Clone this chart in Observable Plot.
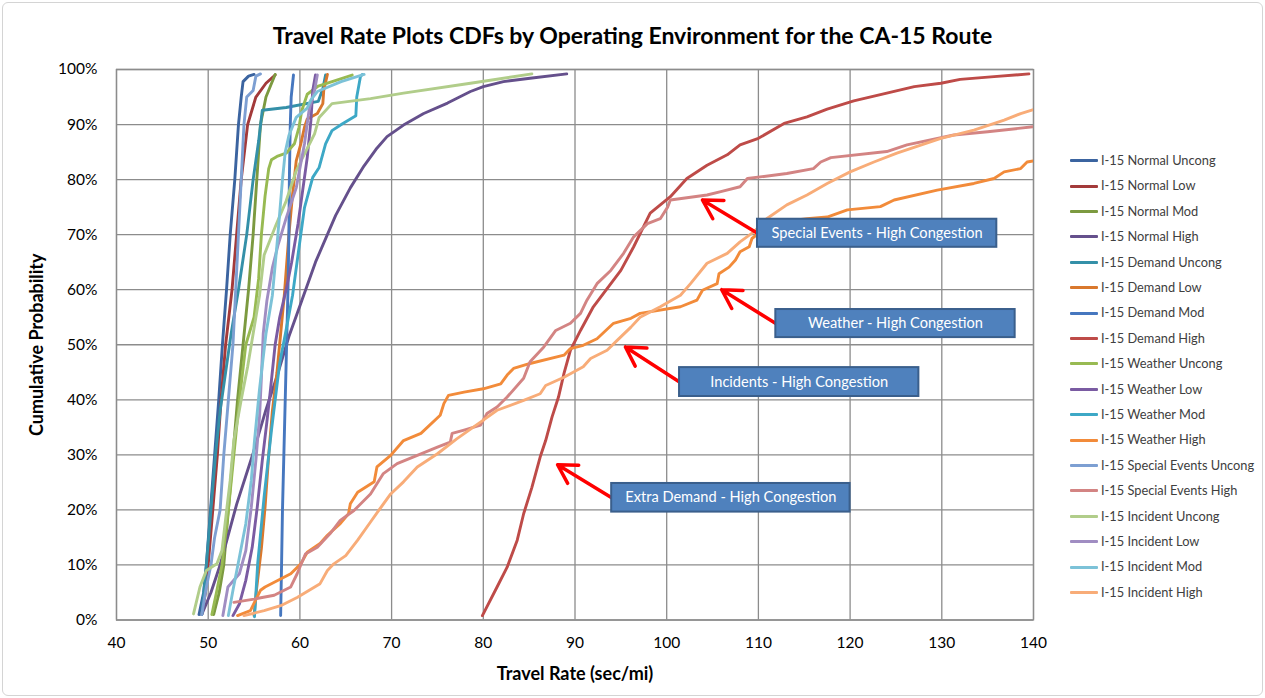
<!DOCTYPE html>
<html><head><meta charset="utf-8">
<script src="https://cdn.jsdelivr.net/npm/d3@7"></script>
<script src="https://cdn.jsdelivr.net/npm/@observablehq/plot@0.6"></script>
<style>
body{margin:0;background:#fff;font-family:Lato,"Open Sans",sans-serif;}
#chart{position:relative;width:1265px;height:698px;overflow:hidden;background:#fff;}
#border{position:absolute;left:2px;top:2px;width:1259px;height:692px;border:1px solid #d4d4d4;border-radius:6px;pointer-events:none;}
#title{box-sizing:border-box;height:50px;padding-top:23px;line-height:24px;text-align:center;font-weight:bold;font-size:23px;color:#000;}
#plot svg{display:block;}
.lg{position:absolute;left:1070px;height:16px;line-height:16px;font-size:12.8px;color:#404040;white-space:nowrap;}
.lg .sw{display:inline-block;width:28px;height:3px;vertical-align:middle;margin-right:3px;border-radius:1px;position:relative;top:-1px;}
</style>
</head><body>
<div id="chart">
  <div id="title">Travel Rate Plots CDFs by Operating Environment for the CA-15 Route</div>
  <div id="plot"></div>
  <div id="legend"></div>
  <div id="border"></div>
</div>
<script>
const xTicks = [40,50,60,70,80,90,100,110,120,130,140];
const yTicks = [0,10,20,30,40,50,60,70,80,90,100];

const seriesNames = ["I-15 Normal Uncong","I-15 Normal Low","I-15 Normal Mod","I-15 Normal High",
  "I-15 Demand Uncong","I-15 Demand Low","I-15 Demand Mod","I-15 Demand High",
  "I-15 Weather Uncong","I-15 Weather Low","I-15 Weather Mod","I-15 Weather High",
  "I-15 Special Events Uncong","I-15 Special Events High","I-15 Incident Uncong","I-15 Incident Low",
  "I-15 Incident Mod","I-15 Incident High"];
const seriesColors = ["#3B64A0","#A33A3A","#7C9A40","#65508C","#3490A8","#D9782D",
  "#4677BF","#BE4B48","#98BA52","#7A5BA2","#3DA8C6","#F28B3A",
  "#7D9FD2","#D38483","#B1CD8A","#A08DC2","#7CC2D8","#F8AC78"];

// [travel rate (sec/mi), cumulative probability (%)]
const normalUncong = [[49.0,1],[49.5,5],[49.8,10],[50.25,20],[50.7,30],[51.15,40],[51.55,50],[52.0,60],[52.4,70],[52.9,80],[53.3,90],[53.6,95],[53.8,97.8],[54.4,98.8],[55.0,99.1]];
const normalLow = [[49.3,1],[49.7,5],[50.0,10],[50.5,20],[51.0,30],[51.4,40],[51.9,50],[52.6,60],[53.1,70],[53.6,80],[54.3,90],[55.2,95],[56.3,97.5],[57.3,99]];
const normalMod = [[50.6,1],[51.2,5],[51.7,10],[52.2,20],[52.7,30],[53.2,40],[53.8,50],[54.4,60],[54.9,70],[55.3,80],[55.7,90],[56.3,95],[57.3,99.1]];
const normalHigh = [[49.3,1],[50.3,5],[51.3,10],[53.1,21],[54.9,30.3],[56.3,38.2],[57.6,44.8],[58.8,51.5],[60.2,58],[61.7,65],[63.9,73.5],[65.5,78.5],[67.0,82.5],[68.3,85.5],[69.5,87.8],[71.3,89.9],[73.5,92],[76.1,93.9],[78.6,96],[80.0,96.9],[82.2,97.8],[85.1,98.4],[89.1,99.2]];
const demandUncong = [[49.3,1],[49.8,10],[50.3,20],[50.8,30],[51.3,38],[51.9,45],[52.5,52],[53.3,60],[54.2,70],[54.9,80],[55.5,87],[55.9,92.6],[58.5,93.1],[62.0,94.2],[62.5,96.5],[62.8,99]];
const demandLow = [[55.0,0.8],[55.3,6],[55.8,13],[56.2,20.5],[56.6,30],[57.0,38],[57.5,45],[57.9,52],[58.3,59],[58.8,70],[59.2,77.3],[59.6,83.4],[60.1,86.5],[60.5,89.5],[60.8,91],[61.9,92],[62.5,93.8],[62.6,96.2],[63.0,99.1]];
const demandMod = [[57.9,0.8],[58.0,10],[58.1,20],[58.25,30],[58.4,40],[58.55,50],[58.7,60],[58.8,70],[58.85,80],[58.95,90],[59.05,95],[59.3,99]];
const demandHigh = [[79.9,0.8],[81.5,6],[82.6,9.6],[83.7,14.5],[84.4,19.3],[85.3,24.1],[86.2,29.6],[86.8,32.6],[87.5,36.9],[88.2,40.5],[88.8,44.8],[89.5,49],[90.6,52.6],[92.0,56.9],[95.0,63.5],[96.4,67.8],[98.2,73.9],[100.4,76.9],[102.2,80.2],[104.4,82.6],[106.6,84.5],[108.0,86.3],[110.0,87.5],[112.8,90.2],[115.3,91.4],[117.5,92.8],[120.4,94.3],[124.0,95.7],[127.0,96.9],[129.9,97.5],[132.0,98.2],[135.7,98.7],[139.5,99.2]];
const weatherUncong = [[50.4,1],[50.9,5],[51.5,10],[52.2,20],[52.8,30],[53.4,40],[54.1,50],[55.0,55],[55.5,62],[55.8,70],[56.2,77],[56.6,82],[56.9,83.6],[57.5,84.2],[58.5,84.8],[59.4,86.5],[59.9,89.5],[60.2,92.5],[60.8,95.5],[62.0,97],[65.7,99]];
const weatherLow = [[52.7,0.8],[53.4,2.9],[54.1,7.2],[54.8,13.2],[55.35,20.5],[55.9,29],[56.4,36],[56.8,42],[57.3,50],[57.8,55],[58.5,60],[59.1,65],[59.8,72],[60.3,78],[60.8,84],[61.2,90.7],[61.4,96.2],[61.7,99]];
const weatherMod = [[55.05,0.6],[55.4,10.3],[56.1,22.4],[56.9,34.5],[57.8,46.7],[58.5,52.7],[59.2,59],[59.9,67.6],[60.5,74.9],[61.4,80.4],[62.1,82.2],[62.8,86.5],[63.5,88.9],[64.6,90.1],[66.1,91.6],[66.2,95],[66.6,98.7],[66.8,99.1]];
const weatherHigh = [[53.2,0.8],[54.6,1.7],[55.7,5.4],[56.2,6],[59.0,8.4],[60.1,10.2],[60.8,12.3],[62.2,13.9],[63.0,15.4],[64.4,17.5],[65.3,19.3],[65.5,21.1],[66.3,23.2],[68.1,25.1],[68.4,27.8],[69.9,29.9],[71.3,32.6],[73.2,33.9],[75.3,37.2],[75.7,39.3],[76.2,40.8],[77.9,41.4],[80.0,42.0],[81.9,42.9],[82.6,44.5],[83.3,45.7],[85.1,46.6],[88.8,48.1],[89.5,49.3],[90.9,49.9],[92.4,51.1],[94.2,53.9],[96.1,54.8],[97.1,55.7],[101.5,56.9],[103.3,58.1],[103.9,59.9],[105.5,61.1],[105.7,62.9],[106.8,64.1],[107.5,65.4],[108.0,66.9],[109.0,67.8],[109.3,69.3],[110.2,70.5],[112.0,72],[113.8,72.6],[115.3,72.9],[117.5,73.2],[119.7,74.5],[123.3,75.1],[124.8,76.3],[129.5,78.1],[133.5,79.3],[135.7,80.2],[136.8,81.4],[138.6,82],[139.3,83.2],[140,83.4]];
const specialUncong = [[49.3,1],[49.8,6],[50.3,10],[50.7,15],[51.3,20],[51.7,30],[52.2,40],[52.7,50],[53.0,60],[53.3,70],[53.6,80],[53.9,90],[54.2,95],[54.9,96.2],[55.2,98.8],[55.7,99.2]];
const specialHigh = [[52.8,3.2],[55.0,3.8],[57.2,4.5],[59.0,6],[59.7,8.4],[60.6,12],[61.9,13.2],[63.3,15.7],[64.4,18.1],[65.9,19.9],[67.7,22.9],[69.1,26.6],[70.6,28.4],[72.8,29.9],[75.0,31.4],[76.4,32.3],[76.6,33.9],[77.9,34.5],[79.7,35.4],[80.4,37.5],[81.5,38.7],[82.6,40.5],[84.4,43.9],[85.1,46.9],[86.6,49.6],[87.9,52.6],[89.5,53.9],[90.6,55.7],[91.3,58.1],[92.4,61.1],[93.9,63.5],[95.3,66.6],[96.4,69.6],[97.9,72],[99.3,72.9],[100.1,75],[100.4,76.3],[104.4,77.2],[105.9,77.8],[108.0,78.7],[108.8,80.2],[113.1,81.1],[116.0,82],[116.8,83.2],[117.9,84],[124.0,85.1],[126.2,86.3],[131.3,88.1],[135.0,88.7],[140,89.6]];
const incidentUncong = [[48.4,1.1],[49.1,6],[49.8,9],[50.95,10.2],[51.5,12.6],[52.05,20.5],[52.4,25.4],[52.8,32.6],[53.6,40],[54.3,46],[54.9,52],[55.6,59],[56.1,66.3],[57.4,71.8],[58.5,76.1],[59.6,81.6],[60.3,84],[61.6,88.3],[62.1,91.3],[63.5,93.8],[67.7,94.7],[71.3,95.7],[78.6,97.5],[85.3,99.2]];
const incidentLow = [[51.6,0.8],[52.15,6],[53.4,8.4],[54.1,12.6],[54.7,20.5],[55.2,29],[55.6,37],[55.8,44],[56.0,52],[56.4,58],[57.0,64],[57.6,68],[58.5,73],[59.6,78.5],[60.5,86.5],[61.0,92.6],[61.6,96.2],[61.9,99]];
const incidentMod = [[52.2,0.8],[52.7,5.4],[53.4,11.4],[54.1,17.5],[54.7,25.4],[55.05,32.6],[55.6,42],[56.3,52],[57.0,59],[57.6,70],[58.1,80],[58.4,85],[58.8,88],[59.6,91.3],[60.8,93],[61.2,94.5],[61.9,96],[64.5,97.8],[67.0,99.1]];
const incidentHigh = [[53.9,0.8],[56.1,1.7],[57.9,2.6],[59.7,4.1],[62.2,6.6],[63.0,9],[63.7,10.2],[65.0,11.7],[66.3,14.5],[67.7,17.8],[68.6,19.9],[69.9,22.9],[71.3,25.1],[72.8,27.8],[75.0,30.2],[77.1,32.9],[80.0,36.3],[81.5,38.1],[84.4,39.9],[86.2,41.1],[86.8,42.6],[88.8,44.1],[90.9,46],[91.7,47.5],[93.5,49],[94.6,50.8],[96.1,53.2],[97.1,55],[99.3,56.9],[101.5,59],[102.6,61.1],[104.4,64.8],[106.6,66.6],[108.0,68.7],[109.5,70.5],[110.9,72.9],[113.1,75.4],[115.3,77.2],[117.5,79.3],[120.0,81.4],[122.6,83.2],[125.1,84.8],[129.9,87.5],[133.5,89],[136.8,90.8],[138.6,92],[140,92.7]];

const seriesValues = [normalUncong, normalLow, normalMod, normalHigh, demandUncong, demandLow, demandMod, demandHigh,
  weatherUncong, weatherLow, weatherMod, weatherHigh, specialUncong, specialHigh, incidentUncong, incidentLow,
  incidentMod, incidentHigh];

// Callout labels: box extent, arrow tip (data units)
const calloutText = ["Special Events - High Congestion","Weather - High Congestion","Incidents - High Congestion","Extra Demand - High Congestion"];
const calloutBox = [[109.9,136.0,72.8,67.7],[111.9,138.0,56.4,51.3],[101.4,127.5,45.85,40.6],[94.0,120.0,24.8,19.6]];
const calloutTip = [[103.9,76.3],[106.0,60.0],[95.5,49.6],[88.1,28.2]];

const rows = seriesValues.flatMap((vals, i) => vals.map(([x, y]) => ({series: seriesNames[i], x, y})));
const callouts = calloutText.map((t, i) => {
  const [x1, x2, y1, y2] = calloutBox[i];
  return {t, x1, x2, y1, y2, cx: (x1 + x2) / 2, cy: (y1 + y2) / 2, ax: x1, ay: (y1 + y2) / 2, tx: calloutTip[i][0], ty: calloutTip[i][1]};
});

const gridStyle = {stroke: "#8c8c8c", strokeOpacity: 1, strokeWidth: 1.3};
const chart = Plot.plot({
  width: 1265, height: 648,
  marginLeft: 116, marginRight: 232, marginTop: 19, marginBottom: 78.5,
  style: {fontFamily: "Lato, 'Open Sans', sans-serif", fontSize: "15.5px", color: "#000", background: "transparent"},
  x: {domain: [40, 140], ticks: xTicks, label: null, tickSize: 0, tickPadding: 17},
  y: {domain: [0, 100], ticks: yTicks, tickFormat: d => d + "%", label: null, tickSize: 0, tickPadding: 19},
  color: {domain: seriesNames, range: seriesColors},
  marks: [
    Plot.gridX(xTicks, gridStyle),
    Plot.gridY(yTicks, gridStyle),
    Plot.frame({stroke: "#8c8c8c", strokeWidth: 1.3}),
    Plot.line(rows, {x: "x", y: "y", z: "series", stroke: "series", strokeWidth: 2.9, strokeLinejoin: "round", clip: true}),
    Plot.arrow(callouts, {x1: "ax", y1: "ay", x2: "tx", y2: "ty", stroke: "#FF0000", strokeWidth: 3.5, headLength: 16, bend: 0}),
    Plot.rect(callouts, {x1: "x1", x2: "x2", y1: "y1", y2: "y2", fill: "#4F81BD", stroke: "#3A5F8C", strokeWidth: 2}),
    Plot.text(callouts, {x: "cx", y: "cy", text: "t", fill: "#fff", fontSize: 14.6}),
    Plot.text(["Travel Rate (sec/mi)"], {frameAnchor: "bottom", dy: 60, fontWeight: "bold", fontSize: 18, fill: "#000"}),
    Plot.text(["Cumulative Probability"], {frameAnchor: "left", textAnchor: "middle", dx: -79, rotate: -90, fontWeight: "bold", fontSize: 18, fill: "#000"})
  ]
});
document.getElementById("plot").appendChild(chart);

const legend = document.getElementById("legend");
seriesNames.forEach((name, i) => {
  const row = document.createElement("div");
  row.className = "lg";
  row.style.top = (160 + i * 25.4 - 8) + "px";
  const sw = document.createElement("span");
  sw.className = "sw";
  sw.style.background = seriesColors[i];
  row.appendChild(sw);
  row.appendChild(document.createTextNode(name));
  legend.appendChild(row);
});
</script>
</body></html>
